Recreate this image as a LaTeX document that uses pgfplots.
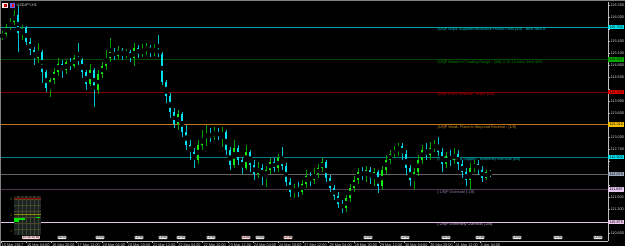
\documentclass[border=0pt]{standalone}
\usepackage{pgfplots}
\pgfplotsset{compat=1.18}
\usepackage{pgfplotstable}
\usepackage{fontspec}
\setmainfont{Liberation Sans}
\newcommand\tf{\fontsize{3.8}{4}\selectfont}
\newcommand\tff{\fontsize{3.2}{3.5}\selectfont}
\definecolor{bullbody}{RGB}{20,235,20}
\definecolor{bullwick}{RGB}{0,160,0}
\definecolor{bearbody}{RGB}{0,225,240}
\definecolor{bearwick}{RGB}{0,190,205}
\definecolor{mA}{RGB}{0,160,170}\definecolor{mAt}{RGB}{0,195,205}\definecolor{mAb}{RGB}{0,230,240}
\definecolor{mB}{RGB}{0,75,0}\definecolor{mBt}{RGB}{0,140,0}\definecolor{mBb}{RGB}{0,170,0}
\definecolor{mC}{RGB}{125,0,0}\definecolor{mCt}{RGB}{200,0,0}\definecolor{mCb}{RGB}{230,0,0}
\definecolor{mD}{RGB}{190,120,30}\definecolor{mDt}{RGB}{215,145,40}\definecolor{mDb}{RGB}{240,190,0}
\definecolor{mE}{RGB}{0,125,135}\definecolor{mEt}{RGB}{0,195,205}\definecolor{mEb}{RGB}{0,230,240}
\definecolor{bid}{RGB}{100,100,100}\definecolor{bidb}{RGB}{160,170,190}
\definecolor{mF}{RGB}{80,55,80}\definecolor{mFt}{RGB}{160,130,180}\definecolor{mFb}{RGB}{230,200,240}
\definecolor{mG}{RGB}{230,190,235}\definecolor{mGt}{RGB}{215,175,225}\definecolor{mGb}{RGB}{240,200,240}
\definecolor{frame}{RGB}{128,128,128}
\definecolor{panel}{RGB}{25,35,35}
\definecolor{pgrid}{RGB}{70,70,40}

\pgfplotstableread{
i o h l c
0 115.475 115.65 115.425 115.575
1 115.575 115.825 115.525 115.75
2 115.75 115.975 115.675 115.875
3 115.875 116.175 115.8 116.05
5 115.6 115.8 115.425 115.725
9 114.975 115.35 114.85 115.125
12 114.225 114.475 114.0 114.425
13 114.425 114.725 114.325 114.625
14 114.625 114.975 114.525 114.825
16 114.675 114.925 114.575 114.875
18 114.775 115.05 114.725 114.975
22 114.325 114.825 114.275 114.675
24 114.175 114.675 114.075 114.575
25 114.575 114.875 114.475 114.775
26 114.775 115.175 114.675 114.975
27 114.975 115.475 114.875 115.125
29 115.025 115.275 114.95 115.175
31 115.05 115.2 114.975 115.125
33 114.975 115.35 114.775 115.225
35 115.075 115.325 115.0 115.175
36 115.175 115.35 115.05 115.25
38 115.125 115.325 115.025 115.2
44 113.325 113.675 113.175 113.575
49 112.425 112.925 112.325 112.8
50 112.8 113.175 112.675 112.975
51 112.975 113.3 112.775 113.075
53 113.0 113.25 112.925 113.125
55 113.025 113.25 112.75 113.125
58 112.3 112.925 112.225 112.725
61 112.225 112.8 112.175 112.625
64 112.075 112.375 111.975 112.225
66 112.025 112.275 111.75 112.175
67 112.175 112.475 112.075 112.375
69 112.225 112.575 112.125 112.475
73 111.625 111.825 111.475 111.725
75 111.625 111.925 111.55 111.825
76 111.825 112.175 111.725 112.025
78 111.925 112.225 111.825 112.075
79 112.075 112.325 111.975 112.225
80 112.225 112.475 112.125 112.375
86 111.225 111.55 111.125 111.475
87 111.475 111.825 111.375 111.725
88 111.725 112.025 111.625 111.925
89 111.925 112.225 111.825 112.125
91 112.025 112.275 111.875 112.175
93 111.975 112.225 111.775 112.125
95 111.775 112.275 111.675 112.175
96 112.175 112.55 112.075 112.425
97 112.425 112.675 112.325 112.575
98 112.575 112.775 112.475 112.675
99 112.675 112.85 112.525 112.775
103 111.925 112.225 111.675 112.125
104 112.125 112.55 112.025 112.425
105 112.425 112.8 112.325 112.675
107 112.55 112.875 112.425 112.725
108 112.725 112.925 112.625 112.8
111 112.325 112.625 112.225 112.525
113 112.425 112.725 112.325 112.575
117 111.925 112.35 111.675 112.225
118 112.225 112.425 112.125 112.325
121 111.975 112.175 111.925 112.125
}\upbars

\pgfplotstableread{
i o h l c
4 116.05 116.275 115.125 115.6
6 115.725 115.775 115.3 115.375
7 115.375 115.475 115.05 115.175
8 115.175 115.25 114.8 114.975
10 115.125 115.175 114.35 114.625
11 114.625 114.675 114.125 114.225
15 114.825 114.925 114.475 114.675
17 114.875 114.975 114.675 114.775
19 114.975 115.35 114.8 114.925
20 114.925 114.975 114.475 114.625
21 114.625 114.675 114.175 114.325
23 114.675 114.725 113.75 114.175
28 115.125 115.225 114.925 115.025
30 115.175 115.225 114.925 115.05
32 115.125 115.175 114.875 114.975
34 115.225 115.3 114.975 115.075
37 115.25 115.3 115.0 115.125
39 115.2 115.55 115.0 115.075
40 115.075 115.125 114.3 114.375
41 114.375 114.425 113.85 114.025
42 114.025 114.1 113.475 113.625
43 113.625 113.725 113.225 113.325
45 113.575 113.625 113.0 113.125
46 113.125 113.3 112.675 112.8
47 112.8 112.925 112.425 112.625
48 112.625 112.725 112.225 112.425
52 113.075 113.225 112.875 113.0
54 113.125 113.225 112.925 113.025
56 113.125 113.175 112.55 112.675
57 112.675 112.75 112.175 112.3
59 112.725 112.8 112.3 112.425
60 112.425 112.5 112.075 112.225
62 112.625 112.675 112.125 112.3
63 112.3 112.425 111.925 112.075
65 112.225 112.325 111.8 112.025
68 112.375 112.475 112.125 112.225
70 112.475 112.75 112.175 112.275
71 112.275 112.35 111.775 111.875
72 111.875 111.975 111.5 111.625
74 111.725 111.875 111.5 111.625
77 112.025 112.125 111.775 111.925
81 112.375 112.425 111.875 111.975
82 111.975 112.05 111.625 111.725
83 111.725 111.8 111.425 111.525
84 111.525 111.625 111.225 111.325
85 111.325 111.425 111.1 111.225
90 112.125 112.25 111.925 112.025
92 112.175 112.25 111.825 111.975
94 112.125 112.175 111.6 111.775
100 112.775 112.85 112.425 112.575
101 112.575 112.675 112.05 112.225
102 112.225 112.3 111.775 111.925
106 112.675 112.85 112.425 112.55
109 112.8 113.0 112.525 112.625
110 112.625 112.725 112.125 112.325
112 112.525 112.675 112.275 112.425
114 112.575 112.675 112.175 112.325
115 112.325 112.425 111.975 112.125
116 112.125 112.225 111.775 111.925
119 112.325 112.425 112.05 112.175
120 112.175 112.275 111.875 111.975
122 112.125 112.175 112.0 112.075
}\downbars

\begin{document}
\begin{tikzpicture}
\path[use as bounding box, fill=black] (0,0) rectangle (625bp,246bp);
\fill[frame] (0,245bp) rectangle (625bp,246bp);
\fill[frame] (0,0) rectangle (0.8bp,246bp);
\begin{axis}[
  at={(1bp,5bp)}, anchor=south west,
  scale only axis, width=607bp, height=239bp,
  xmin=-0.25, xmax=151.5, ymin=110.4, ymax=116.375,
  clip=false,
  axis x line*=bottom, axis y line*=right,
  axis line style={-, draw=white!75!black, line width=0.6bp},
  tick align=outside, major tick length=1.8bp,
  tick style={white!75!black, line width=0.4bp},
  ytick={110.6,110.9,111.2,111.5,111.8,112.1,112.4,112.7,113.0,113.3,113.6,113.9,114.2,114.5,114.8,115.1,115.4,115.7,116.0,116.3},
  yticklabels={110.600,,111.200,111.500,,,,112.700,113.000,,113.600,113.900,,114.500,114.800,115.100,115.400,,116.000,116.300},
  yticklabel style={font=\tf, text=white!85!black, anchor=west, inner sep=0.6bp},
  xtick={-0.25,6.05,12.35,18.65,24.95,31.25,37.55,43.85,50.15,56.45,62.75,69.05,75.35,81.65,87.95,94.25,100.55,106.85,113.15,119.45},
  xticklabels={15 Mar 2017,16 Mar 04:00,16 Mar 20:00,17 Mar 12:00,20 Mar 04:00,20 Mar 20:00,21 Mar 12:00,22 Mar 04:00,22 Mar 20:00,23 Mar 12:00,24 Mar 04:00,24 Mar 20:00,27 Mar 12:00,28 Mar 04:00,28 Mar 20:00,29 Mar 12:00,30 Mar 04:00,30 Mar 20:00,31 Mar 12:00,3 Apr 04:00},
  xticklabel style={font=\tf, text=white!85!black, anchor=north west, inner sep=0.4bp, xshift=0.3bp},
]
% Murrey math levels
\addplot[mA, line width=0.8bp, forget plot] coordinates {(-0.25,115.75) (151.5,115.75)};
\addplot[mB, line width=0.8bp, forget plot] coordinates {(-0.25,114.9375) (151.5,114.9375)};
\addplot[mC, line width=0.8bp, forget plot] coordinates {(-0.25,114.125) (151.5,114.125)};
\addplot[mD, line width=0.8bp, forget plot] coordinates {(-0.25,113.3125) (151.5,113.3125)};
\addplot[mE, line width=0.8bp, forget plot] coordinates {(-0.25,112.5) (151.5,112.5)};
\addplot[bid, line width=0.7bp, forget plot] coordinates {(-0.25,112.075) (151.5,112.075)};
\addplot[mF, line width=0.9bp, forget plot] coordinates {(-0.25,111.6875) (151.5,111.6875)};
\addplot[mG, line width=0.8bp, forget plot] coordinates {(-0.25,110.875) (151.5,110.875)};
% wicks
\addplot[only marks, mark=none, forget plot, error bars/.cd, y dir=both, y explicit, error mark=none,
  error bar style={draw=bullwick, line width=0.9bp}]
  table[x=i, y expr={(\thisrow{h}+\thisrow{l})/2}, y error plus expr={(\thisrow{h}-\thisrow{l})/2}, y error minus expr={(\thisrow{h}-\thisrow{l})/2}] {\upbars};
\addplot[only marks, mark=none, forget plot, error bars/.cd, y dir=both, y explicit, error mark=none,
  error bar style={draw=bearwick, line width=0.9bp}]
  table[x=i, y expr={(\thisrow{h}+\thisrow{l})/2}, y error plus expr={(\thisrow{h}-\thisrow{l})/2}, y error minus expr={(\thisrow{h}-\thisrow{l})/2}] {\downbars};
% bodies
\addplot[only marks, mark=none, forget plot, error bars/.cd, y dir=both, y explicit, error mark=none,
  error bar style={draw=bullbody, line width=2.8bp}]
  table[x=i, y expr={(\thisrow{o}+\thisrow{c})/2}, y error plus expr={abs(\thisrow{c}-\thisrow{o})/2}, y error minus expr={abs(\thisrow{c}-\thisrow{o})/2}] {\upbars};
\addplot[only marks, mark=none, forget plot, error bars/.cd, y dir=both, y explicit, error mark=none,
  error bar style={draw=bearbody, line width=2.8bp}]
  table[x=i, y expr={(\thisrow{o}+\thisrow{c})/2}, y error plus expr={abs(\thisrow{c}-\thisrow{o})/2}, y error minus expr={abs(\thisrow{c}-\thisrow{o})/2}] {\downbars};
% level labels
\begin{scope}[every node/.style={anchor=north west, font=\tf, inner sep=0.3bp, yshift=-0.6bp}]
\node[text=mAt] at (axis cs:108.75,115.75) {[4/8]P Major Support/Resistance Pivotal Point [4/8] - Best New B};
\node[text=mBt] at (axis cs:108.75,114.9375) {[3/8]P Bottom of Trading Range - [3/8], if 10-12 bars, then 40\%};
\node[text=mCt] at (axis cs:108.75,114.125) {[2/8]P Pivot, Reverse - major [2/8]};
\node[text=mDt] at (axis cs:108.75,113.3125) {[1/8]P Weak, Place to Stop and Reverse - [1/8]};
\node[text=mEt] at (axis cs:108.75,112.5) {[0/8]P Ultimate Support - extremely oversold [0/8]};
\node[text=mFt] at (axis cs:108.75,111.6875) {[-1/8]P Oversold [-1/8]};
\node[text=mGt] at (axis cs:108.75,110.875) {[-2/8]P Extremely Oversold [-2/8]};
\end{scope}
% price boxes on the right scale
\begin{scope}[every node/.style={anchor=west, font=\tf, inner sep=0.7bp, text=black, minimum width=16bp}]
\node[fill=mAb] at (axis cs:151.5,115.75) {115.750};
\node[fill=mBb] at (axis cs:151.5,114.9375) {114.937};
\node[fill=mCb] at (axis cs:151.5,114.125) {114.125};
\node[fill=mDb] at (axis cs:151.5,113.3125) {113.312};
\node[fill=mEb] at (axis cs:151.5,112.5) {112.500};
\node[fill=bidb] at (axis cs:151.5,112.075) {112.075};
\node[fill=mFb] at (axis cs:151.5,111.6875) {111.687};
\node[fill=mGb] at (axis cs:151.5,110.875) {110.875};
\end{scope}
% symbol title
\fill[white!90!red] (axis cs:0.1,116.34) rectangle (axis cs:1.5,116.22);
\fill[red!80!black] (axis cs:0.6,116.32) rectangle (axis cs:1.2,116.24);
\fill[blue!60!white] (axis cs:1.9,116.34) rectangle (axis cs:3.3,116.22);
\fill[red] (axis cs:2.5,116.32) rectangle (axis cs:3.1,116.24);
\node[anchor=west, font=\tf, text=white!85!black, inner sep=0pt] at (axis cs:3.6,116.28) {USDJPY,H1};
% small indicator panel
\fill[panel] (axis cs:3,110.55) rectangle (axis cs:9.75,111.525);
\draw[pgrid, line width=0.3bp] (axis cs:4,110.55) -- (axis cs:4,111.525);
\draw[pgrid, line width=0.3bp] (axis cs:5,110.55) -- (axis cs:5,111.525);
\draw[pgrid, line width=0.3bp] (axis cs:6,110.55) -- (axis cs:6,111.525);
\draw[pgrid, line width=0.3bp] (axis cs:7,110.55) -- (axis cs:7,111.525);
\draw[pgrid, line width=0.3bp] (axis cs:8,110.55) -- (axis cs:8,111.525);
\draw[pgrid, line width=0.3bp] (axis cs:9,110.55) -- (axis cs:9,111.525);
\draw[pgrid, line width=0.3bp] (axis cs:3,110.7) -- (axis cs:9.75,110.7);
\draw[pgrid, line width=0.3bp] (axis cs:3,110.85) -- (axis cs:9.75,110.85);
\draw[pgrid, line width=0.3bp] (axis cs:3,111.0) -- (axis cs:9.75,111.0);
\draw[pgrid, line width=0.3bp] (axis cs:3,111.15) -- (axis cs:9.75,111.15);
\draw[pgrid, line width=0.3bp] (axis cs:3,111.3) -- (axis cs:9.75,111.3);
\draw[pgrid, line width=0.3bp] (axis cs:3,111.45) -- (axis cs:9.75,111.45);
\draw[red!60!black, line width=0.4bp] (axis cs:3,111.47) -- (axis cs:9.75,111.47);
\draw[olive, line width=0.5bp] (axis cs:3,111.07) -- (axis cs:9.75,111.07);
\fill[green!90!black] (axis cs:3.1,110.93) rectangle (axis cs:5.8,110.98);
\fill[green!90!black] (axis cs:3.1,110.88) rectangle (axis cs:4.3,110.92);
\fill[green!90!black] (axis cs:8.6,110.97) rectangle (axis cs:9.6,111.0);
\node[font=\tff, text=olive, inner sep=0pt] at (axis cs:2.3,111.45) {3};
\node[font=\tff, text=olive, inner sep=0pt] at (axis cs:2.3,111.05) {2};
\node[font=\tff, text=olive, inner sep=0pt] at (axis cs:2.3,110.64) {1};
% news event boxes
\begin{scope}[every node/.style={font=\tff, fill=white!92!black, text=black, rounded corners=0.8bp, inner sep=0.5bp}]
\node[fill=red!15!white] at (axis cs:7.25,110.49) {12:30 13:30};
\node at (axis cs:15,110.49) {09:30};
\node at (axis cs:24.5,110.49) {14:00};
\node at (axis cs:34.25,110.49) {12:30};
\node at (axis cs:40.25,110.49) {14:00};
\node at (axis cs:44.75,110.49) {12:30};
\node at (axis cs:52.25,110.49) {12:30};
\node[fill=red!15!white] at (axis cs:61,110.49) {14:00};
\node at (axis cs:64.5,110.49) {13:00};
\node[fill=red!15!white] at (axis cs:71.5,110.49) {12:30};
\node at (axis cs:91.5,110.49) {14:00};
\node at (axis cs:100.75,110.49) {12:30};
\node at (axis cs:111,110.49) {09:30};
\node at (axis cs:119.5,110.49) {12:30};
\node at (axis cs:128.75,110.49) {14:00};
\node at (axis cs:139,110.49) {12:30};
\node at (axis cs:149,110.49) {14:00};
\end{scope}
\end{axis}
\end{tikzpicture}
\end{document}
